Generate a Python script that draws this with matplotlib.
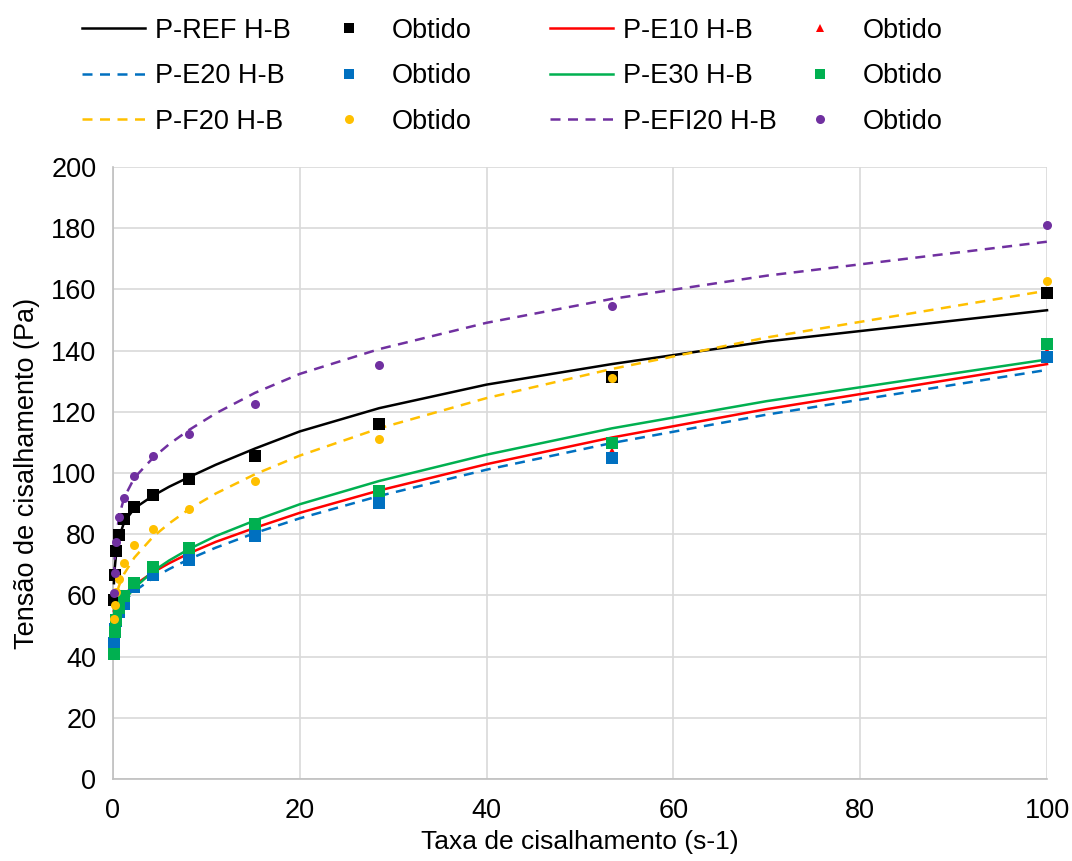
import numpy as np
import matplotlib.pyplot as plt
from matplotlib.lines import Line2D

plt.rcParams['font.family'] = ['Liberation Sans', 'DejaVu Sans']

# taxa de cisalhamento (s-1) dos pontos obtidos
taxa = [0.1, 0.19, 0.35, 0.66, 1.2, 2.3, 4.3, 8.1, 15.2, 28.5, 53.4, 100]

# pontos obtidos (Pa)
obt_ref = [58.5, 66.7, 74.5, 79.7, 85.0, 88.8, 92.8, 98.0, 105.5, 116.0, 131.5, 158.8]
obt_e10 = [46.0, 49.0, 52.0, 55.0, 58.0, 63.0, 67.5, 72.5, 80.5, 93.0, 107.0, 139.5]
obt_e20 = [44.5, 49.0, 51.5, 54.6, 57.2, 62.8, 66.7, 71.7, 79.4, 90.1, 105.0, 138.0]
obt_e30 = [40.8, 48.1, 52.0, 55.8, 59.8, 64.2, 69.4, 75.4, 83.3, 94.1, 109.8, 142.3]
obt_f20 = [52.2, 56.9, 61.0, 65.5, 70.5, 76.5, 81.7, 88.2, 97.4, 111.2, 130.9, 162.8]
obt_efi20 = [60.7, 67.2, 77.3, 85.7, 92.0, 99.0, 105.6, 112.7, 122.5, 135.3, 154.7, 181.0]

# curvas Herschel-Bulkley (Pa)
taxa_hb = [0.1, 0.19, 0.35, 0.66, 1.2, 2.3, 4.3, 6, 8.1, 11, 15.2, 20, 28.5, 40, 53.4, 70, 100]
hb_ref = [64.0, 69.0, 74.0, 79.0, 84.0, 88.5, 92.6, 95.5, 98.6, 102.7, 108.0, 113.6, 121.2, 128.9, 135.6, 143.0, 153.2]
hb_e10 = [55.0, 55.8, 56.8, 58.3, 60.3, 63.4, 67.6, 70.5, 73.7, 77.5, 82.1, 87.0, 94.3, 102.9, 111.6, 120.9, 135.6]
hb_e20 = [52.8, 53.6, 54.6, 56.2, 58.2, 61.4, 65.7, 68.6, 71.8, 75.6, 80.4, 85.2, 92.5, 101.1, 109.8, 119.1, 133.7]
hb_e30 = [50.3, 51.6, 53.3, 55.5, 58.4, 62.5, 67.9, 71.4, 75.1, 79.4, 84.5, 89.8, 97.4, 106.0, 114.6, 123.5, 137.1]
hb_f20 = [56.0, 57.9, 60.2, 63.3, 67.1, 72.4, 79.2, 83.5, 88.1, 93.3, 99.6, 105.7, 114.6, 124.5, 134.0, 144.3, 159.6]
hb_efi20 = [66.0, 72.0, 79.0, 86.0, 92.0, 98.5, 105.0, 109.4, 114.0, 119.5, 126.2, 132.4, 140.5, 149.1, 156.9, 164.5, 175.6]

nomes = ['P-REF', 'P-E10', 'P-E20', 'P-E30', 'P-F20', 'P-EFI20']
cores = ['#000000', '#FF0000', '#0070C0', '#00B050', '#FFC000', '#7030A0']
estilos = ['-', '-', '--', '-', '--', '--']
marcadores = ['s', '^', 's', 's', 'o', 'o']
tamanhos = [8, 7, 8, 8, 6.5, 6.5]
curvas = [hb_ref, hb_e10, hb_e20, hb_e30, hb_f20, hb_efi20]
obtidos = [obt_ref, obt_e10, obt_e20, obt_e30, obt_f20, obt_efi20]

fs = 19.5

fig = plt.figure(figsize=(10.72, 8.61), dpi=100)
ax = fig.add_axes([0.1054, 0.0952, 0.8713, 0.7108])

linhas = []
pontos = []
for nome, cor, est, mk, ms, hb, ob in zip(nomes, cores, estilos, marcadores, tamanhos, curvas, obtidos):
    tracos = (4, 3) if est == '--' else (None, None)
    ax.plot(taxa_hb, hb, color=cor, linestyle=est, linewidth=1.8, clip_on=False,
            dashes=tracos, zorder=3)
    ax.plot(taxa, ob, linestyle='none', marker=mk, markersize=ms, color=cor,
            markeredgewidth=0, clip_on=False, zorder=4)
    linhas.append(Line2D([], [], color=cor, linestyle=est, linewidth=1.8, dashes=tracos))
    fator = 1.0 if mk == 'o' else 0.85
    pontos.append(Line2D([], [], color=cor, linestyle='none', marker=mk,
                         markersize=ms * fator, markeredgewidth=0))

ax.set_xlim(0, 100)
ax.set_ylim(0, 200)
ax.set_xticks(np.arange(0, 101, 20))
ax.set_yticks(np.arange(0, 201, 20))
ax.grid(True, color='#D9D9D9', linewidth=1.2)
ax.set_axisbelow(True)
for s in ['top', 'right']:
    ax.spines[s].set_visible(False)
for s in ['left', 'bottom']:
    ax.spines[s].set_color('#BFBFBF')
    ax.spines[s].set_linewidth(1.2)
ax.tick_params(axis='both', length=0, labelsize=fs)
ax.tick_params(axis='x', pad=14)
ax.tick_params(axis='y', pad=12)
ax.set_xlabel('Taxa de cisalhamento (s-1)', fontsize=19, labelpad=4)
ax.set_ylabel('Tensão de cisalhamento (Pa)', fontsize=fs, labelpad=8)

# legenda em 4 colunas
colunas = [
    ([linhas[0], linhas[2], linhas[4]], ['P-REF H-B', 'P-E20 H-B', 'P-F20 H-B'], 0.0765, 2.33),
    ([pontos[0], pontos[2], pontos[4]], ['Obtido'] * 3, 0.2948, 2.44),
    ([linhas[1], linhas[3], linhas[5]], ['P-E10 H-B', 'P-E30 H-B', 'P-EFI20 H-B'], 0.513, 2.33),
    ([pontos[1], pontos[3], pontos[5]], ['Obtido'] * 3, 0.734, 2.44),
]
for hs, labs, x0, hl in colunas:
    fig.legend(hs, labs, loc='upper left', bbox_to_anchor=(x0, 0.9795), frameon=False,
               fontsize=fs, handlelength=hl, handletextpad=0.37, labelspacing=0.72,
               borderpad=0, borderaxespad=0)

fig.savefig('out.png', dpi=100)
